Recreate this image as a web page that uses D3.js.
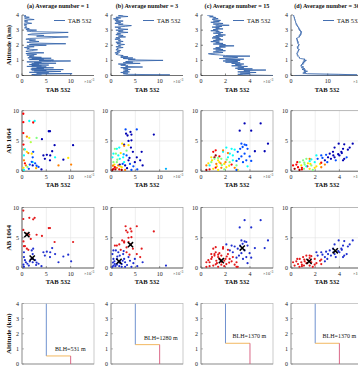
<!DOCTYPE html>
<html><head><meta charset="utf-8">
<script src="https://cdn.jsdelivr.net/npm/d3@7"></script>
<style>body{margin:0;background:#fff}svg{display:block}</style>
</head><body><svg id="c" width="358" height="368"></svg>
<script>
// ---------------- DATA ----------------
const titles = ["(a) Average number = 1","(b) Average number = 3","(c) Average number = 15","(d) Average number = 30"];
const xLabel = "TAB 532";
const yLabelAlt = "Altitude (km)";
const yLabelAB = "AB 1064";
const legendText = "TAB 532";
const xDomRow1 = [14.8,14.8,5.88,19.6];
const xDomRow23 = [14.8,14.8,5.88,5.95];
const xDomRow4 = [14.8,14.8,5.88,5.95];
const xTicksRow1 = [[0,5,10],[0,5,10],[0,2,4],[0,10]];
const xTicksRow23 = [[0,5,10],[0,5,10],[0,2,4],[0,2,4]];
const altTicks = [0,1,2,3,4];
const abTicks = [0,5,10];

// profiles: [altitude km, TAB 532 (x1e-3)]
const profileA = [[0,2.5],[0.03,4],[0.06,2],[0.09,3.5],[0.12,10.3],[0.15,3],[0.18,5.5],[0.21,1.5],[0.24,4],[0.27,8],[0.3,2.5],[0.33,5],[0.36,2],[0.39,8.5],[0.42,1.8],[0.45,4.5],[0.48,2],[0.51,6.5],[0.54,3],[0.57,5],[0.6,1],[0.63,4],[0.66,2],[0.69,5.5],[0.72,1.5],[0.75,3.5],[0.78,2],[0.81,7],[0.84,2.5],[0.87,4],[0.9,1],[0.93,6],[0.96,10],[0.99,3.5],[1.02,6.5],[1.05,1.5],[1.08,4.5],[1.11,2],[1.14,6],[1.17,1.2],[1.2,4],[1.25,1.5],[1.3,2.5],[1.35,1],[1.4,3],[1.45,0.8],[1.5,4.5],[1.55,1.5],[1.6,0.8],[1.65,2],[1.7,3.2],[1.75,1],[1.8,1.5],[1.85,0.5],[1.9,2.5],[1.95,1],[2,5],[2.05,1.5],[2.1,9],[2.15,2],[2.2,1],[2.25,3.5],[2.3,1.5],[2.35,2.8],[2.4,0.8],[2.45,1.5],[2.5,6],[2.55,9.5],[2.6,3],[2.65,4.5],[2.7,1.2],[2.75,2],[2.8,6],[2.85,9.5],[2.9,2],[2.95,1],[3,3],[3.05,0.8],[3.1,1.5],[3.15,0.5],[3.2,1],[3.3,0.5],[3.35,1],[3.4,0.4],[3.45,2],[3.5,1],[3.55,0.5],[3.6,1.2],[3.65,0.5],[3.7,2.5],[3.75,1],[3.8,0.5],[3.85,1.5],[3.9,0.5],[3.95,0.8],[4,0.3]];
const profileB = [[0,2.5],[0.04,12.1],[0.08,3],[0.12,2.5],[0.16,3.5],[0.2,2],[0.24,3.8],[0.28,2.5],[0.32,3.5],[0.36,2.8],[0.4,4],[0.44,2.5],[0.48,3.5],[0.52,2],[0.56,6.5],[0.6,3],[0.64,3.5],[0.68,2],[0.72,3],[0.76,1.5],[0.8,6],[0.84,2.5],[0.88,4.5],[0.92,3],[0.96,5],[1,10.7],[1.04,3.5],[1.08,5],[1.12,2.5],[1.16,4.5],[1.2,2],[1.24,3.5],[1.28,2],[1.32,2.5],[1.36,1.5],[1.4,1],[1.45,1.5],[1.5,0.8],[1.55,1.8],[1.6,1.2],[1.65,2],[1.7,1],[1.75,1.5],[1.8,1.2],[1.85,2.5],[1.9,1],[1.95,2],[2,1.5],[2.05,2.8],[2.1,1.2],[2.15,2],[2.2,1],[2.25,2.5],[2.3,1.5],[2.35,2],[2.4,0.8],[2.45,1.8],[2.5,1],[2.55,3],[2.6,1.5],[2.65,2.5],[2.7,1],[2.75,2],[2.8,1.2],[2.85,3.5],[2.9,1.5],[2.95,2.5],[3,1],[3.05,3.5],[3.1,1.5],[3.15,2],[3.2,0.8],[3.25,3],[3.3,4.2],[3.35,1.5],[3.4,2.5],[3.45,0.8],[3.5,2],[3.55,1],[3.6,2.5],[3.65,0.8],[3.7,1.5],[3.75,0.5],[3.8,2],[3.85,1],[3.9,3.5],[3.95,1.5],[4,2.5]];
const profileC = [[0,6],[0.04,3.5],[0.08,3],[0.12,4],[0.16,3.2],[0.2,4.5],[0.24,3],[0.28,4],[0.32,3.5],[0.36,5.3],[0.4,3],[0.44,4.2],[0.48,2.8],[0.52,3.5],[0.56,3],[0.6,3.8],[0.64,2.5],[0.68,3.3],[0.72,2.8],[0.76,3.5],[0.8,2.5],[0.84,3.2],[0.88,2],[0.92,3],[0.96,1.8],[1,3.2],[1.04,2],[1.08,3.5],[1.12,1.5],[1.16,2.5],[1.2,3],[1.24,1.8],[1.28,4],[1.32,2],[1.36,1.5],[1.4,0.8],[1.44,0.6],[1.48,1.2],[1.52,1.8],[1.56,1],[1.6,1.5],[1.64,2],[1.68,1.2],[1.72,1.8],[1.76,1],[1.8,1.6],[1.84,1.2],[1.88,2],[1.92,1.5],[1.96,2.7],[2,1.5],[2.04,2],[2.08,1],[2.12,1.8],[2.16,1.2],[2.2,1.5],[2.24,0.8],[2.28,1.5],[2.32,1],[2.36,1.8],[2.4,1.2],[2.44,1.6],[2.48,0.9],[2.52,1.5],[2.56,1],[2.6,1.8],[2.64,1.2],[2.68,2],[2.72,1.4],[2.76,1.6],[2.8,1],[2.84,1.8],[2.88,1.2],[2.92,1.5],[2.96,0.8],[3,1.4],[3.04,1],[3.08,1.8],[3.12,1.2],[3.16,1.5],[3.2,0.9],[3.24,1.7],[3.28,1.2],[3.32,2.3],[3.36,1.5],[3.4,1],[3.44,1.8],[3.48,1.2],[3.52,0.8],[3.56,1.5],[3.6,1],[3.64,1.6],[3.68,1.2],[3.72,0.9],[3.76,1.4],[3.8,1],[3.84,1.2],[3.88,0.7],[3.92,1],[3.96,0.6],[4,0.5]];
const profileD = [[0,1],[0.04,18],[0.08,13],[0.12,4.5],[0.16,3.2],[0.2,4],[0.24,3.5],[0.28,4.5],[0.32,3.5],[0.36,4],[0.4,3],[0.44,3.8],[0.48,3.2],[0.52,2.8],[0.56,3.5],[0.6,3],[0.64,2.6],[0.68,3],[0.72,2.8],[0.76,3.4],[0.8,3],[0.84,3.6],[0.88,3.2],[0.92,3.9],[0.96,3.4],[1,4.2],[1.04,3.5],[1.08,3.8],[1.12,2.6],[1.16,2.2],[1.2,2.4],[1.24,2],[1.28,1.8],[1.32,2],[1.36,1.6],[1.4,1.8],[1.44,1.5],[1.48,1.8],[1.52,1.6],[1.56,2],[1.6,1.8],[1.64,2.2],[1.68,1.9],[1.72,2.3],[1.76,2],[1.8,1.7],[1.84,2],[1.88,1.6],[1.92,1.9],[1.96,2.2],[2,1.9],[2.04,2.3],[2.08,2],[2.12,1.8],[2.16,2.1],[2.2,1.7],[2.24,2],[2.28,1.6],[2.32,1.9],[2.36,1.5],[2.4,1.8],[2.44,1.4],[2.48,1.7],[2.52,2],[2.56,2.4],[2.6,2.1],[2.64,2.6],[2.68,2.3],[2.72,2.8],[2.76,2.5],[2.8,2.9],[2.84,2.6],[2.88,3],[2.92,2.5],[2.96,2.7],[3,2.2],[3.04,2.5],[3.08,2],[3.12,2.3],[3.16,1.9],[3.2,2.1],[3.24,1.7],[3.28,1.9],[3.32,1.5],[3.36,1.7],[3.4,1.3],[3.44,1.5],[3.48,1.2],[3.52,1.4],[3.56,1.1],[3.6,1.3],[3.64,1],[3.68,1.2],[3.72,0.9],[3.76,1.1],[3.8,0.8],[3.84,1],[3.88,0.7],[3.92,0.9],[3.96,0.6],[4,0.8]];

// scatter points: [TAB 532 (x1e-3), AB 1064, colour value (jet 0..1), cluster (1 = upper cluster, 0 = lower cluster)]
const scatterA = [[0.27,9.5,0.88,1],[0.27,8.1,0.88,1],[1.5,8.3,0.38,1],[2.6,8.3,0.38,1],[2.3,8.05,0.88,1],[0.27,6.3,0.88,1],[1.0,5.7,0.75,1],[1.5,5.5,0.6,1],[3.0,5.5,0.5,1],[1.8,4.8,0.55,1],[5.5,6.6,0.05,1],[5.75,6.6,0.05,1],[4.1,5.3,0.05,1],[6.7,4.3,0.05,1],[10.5,4.3,0.05,1],[0.3,4.4,0.88,1],[0.4,3.6,0.75,1],[0.6,3.6,0.38,1],[1.0,3.2,0.65,1],[1.3,3.0,0.75,1],[2.0,2.9,0.65,0],[0.4,2.6,0.38,0],[4.4,2.6,0.05,0],[5.1,2.7,0.05,0],[5.8,2.6,0.05,0],[6.2,3.3,0.05,0],[4.7,2.05,0.05,0],[5.75,1.8,0.05,0],[2.3,3.2,0.2,0],[2.2,2.3,0.2,0],[6.8,2.3,0.38,0],[8.5,1.9,0.05,0],[9.5,2.2,0.65,0],[10.1,1.1,0.75,0],[7.5,0.95,0.75,0],[2.2,1.5,0.38,0],[2.7,1.3,0.2,0],[3.0,0.9,0.2,0],[3.4,0.7,0.2,0],[4.0,0.3,0.05,0],[2.2,0.95,0.05,0],[0.4,1.8,0.75,0],[0.6,1.3,0.88,0],[0.8,0.95,0.75,0],[0.3,0.55,0.65,0],[1.1,0.7,0.5,0],[1.6,1.1,0.2,0],[1.4,0.4,0.2,0],[0.4,0.2,0.38,0],[2.0,1.55,0.2,0],[2.9,0.5,0.7,0]];
const scatterB = [[3.0,6.9,0.2,1],[5.3,6.9,0.2,1],[4.0,6.5,0.05,1],[3.1,6.2,0.05,1],[3.4,5.9,0.05,1],[4.2,6.05,0.05,1],[8.8,6.05,0.05,1],[4.2,5.1,0.05,1],[3.6,5.0,0.05,1],[2.7,4.4,0.05,1],[2.3,4.55,0.65,1],[3.6,4.3,0.65,1],[2.7,4.2,0.75,1],[1.2,3.7,0.38,1],[1.7,3.9,0.38,1],[0.8,3.7,0.5,1],[0.5,2.9,0.38,0],[1.0,2.9,0.5,0],[4.1,3.9,0.05,1],[4.5,3.2,0.05,1],[6.3,3.2,0.05,1],[5.3,2.3,0.05,1],[6.0,1.8,0.05,1],[6.5,0.95,0.05,0],[5.4,0.3,0.2,0],[11.3,0.4,0.3,0],[0.5,0.4,0.88,0],[0.8,0.65,0.88,0],[0.3,0.2,0.97,0],[1.5,0.95,0.75,0],[2.2,0.65,0.65,0],[1.2,1.5,0.5,0],[1.8,2.05,0.38,0],[2.5,2.3,0.38,0],[3.2,2.6,0.2,1],[3.6,1.8,0.05,0],[3.9,1.2,0.2,0],[2.9,0.95,0.05,0],[4.6,0.8,0.2,0],[2.7,1.5,0.38,0],[1.8,1.1,0.05,0],[0.5,1.5,0.5,0],[0.7,1.1,0.65,0],[1.2,0.55,0.75,0],[1.7,0.3,0.88,0],[2.2,0.2,0.97,0],[1.5,2.6,0.38,0],[2.0,3.0,0.65,1],[2.9,0.2,0.75,0],[4.2,0.2,0.2,0],[4.9,1.5,0.05,0],[0.3,2.3,0.38,0],[3.2,3.4,0.5,1],[0.9,0.3,0.97,0],[1.3,1.9,0.5,0],[2.4,1.2,0.2,0],[3.3,0.5,0.05,0],[0.4,0.9,0.75,0],[1.9,0.8,0.65,0],[2.6,2.8,0.3,0],[3.8,2.2,0.05,1]];
const scatterC = [[3.56,7.9,0.05,1],[4.87,7.9,0.05,1],[3.16,6.7,0.05,1],[4.1,6.7,0.05,1],[5.47,4.55,0.05,1],[5.2,3.3,0.05,1],[4.4,3.3,0.05,1],[3.3,4.55,0.2,1],[3.56,4.4,0.2,1],[3.7,4.3,0.2,1],[3.4,4.0,0.2,1],[3.2,3.7,0.2,1],[3.8,3.7,0.2,1],[3.0,3.2,0.2,1],[3.56,2.9,0.2,1],[3.3,2.45,0.2,1],[3.97,2.45,0.2,1],[3.7,1.8,0.2,1],[2.9,1.7,0.2,1],[3.43,1.5,0.2,1],[4.1,1.7,0.2,1],[3.1,2.05,0.2,1],[2.07,3.9,0.38,1],[2.5,3.7,0.38,1],[2.75,3.55,0.38,1],[2.35,2.9,0.38,1],[1.8,3.2,0.38,0],[2.2,2.3,0.38,0],[3.8,0.8,0.38,1],[2.6,2.6,0.38,1],[1.0,3.2,0.88,0],[1.2,3.45,0.88,0],[0.7,0.3,0.88,0],[0.44,0.2,0.97,0],[1.2,2.6,0.97,0],[1.1,2.3,0.97,0],[1.8,3.45,0.75,0],[2.2,3.0,0.75,0],[1.1,2.05,0.5,0],[1.4,1.8,0.65,0],[1.66,2.05,0.5,0],[1.5,1.5,0.65,0],[1.25,1.2,0.75,0],[1.9,1.2,0.65,0],[0.84,1.5,0.5,0],[0.7,0.95,0.38,0],[2.07,0.65,0.65,0],[1.66,0.55,0.75,0],[1.0,0.4,0.65,0],[2.34,1.5,0.5,0],[2.5,1.1,0.88,0],[2.75,0.55,0.75,0],[1.4,0.2,0.65,0],[1.9,0.3,0.5,0],[2.6,1.8,0.38,0],[1.5,2.45,0.88,0],[0.84,2.3,0.65,0],[0.44,0.95,0.75,0],[2.9,0.95,0.5,0],[3.0,0.2,0.65,0],[2.9,0.2,0.2,0],[1.3,0.8,0.65,0],[1.7,1.0,0.5,0],[2.1,1.9,0.5,0],[0.9,1.8,0.65,0],[1.6,1.3,0.75,0],[2.3,0.9,0.65,0],[1.2,0.6,0.88,0],[0.6,1.3,0.65,0],[2.0,1.5,0.75,0],[1.4,2.2,0.5,0]];
const scatterD = [[3.94,4.55,0.05,1],[4.4,4.45,0.05,1],[5.1,4.55,0.05,1],[3.6,3.9,0.05,1],[4.3,3.7,0.05,1],[4.7,3.55,0.05,1],[4.85,3.9,0.05,1],[4.16,3.2,0.05,1],[3.47,3.2,0.05,1],[3.9,2.8,0.05,1],[3.2,2.9,0.05,1],[3.6,2.3,0.05,1],[3.3,2.05,0.05,1],[4.0,2.6,0.05,1],[3.06,2.3,0.05,1],[2.8,1.8,0.05,1],[4.4,2.05,0.05,1],[4.3,1.8,0.05,1],[2.5,2.6,0.2,1],[2.9,2.7,0.2,1],[2.2,2.05,0.2,1],[3.7,1.8,0.2,1],[4.6,2.3,0.2,1],[2.1,2.6,0.38,1],[1.68,1.95,0.38,0],[1.96,1.5,0.38,0],[2.4,1.2,0.65,0],[2.8,1.1,0.75,1],[2.1,0.8,0.65,0],[2.5,0.65,0.75,0],[1.96,0.55,0.65,0],[2.5,1.4,0.88,0],[0.17,0.95,0.88,0],[0.3,0.4,0.97,0],[0.58,0.65,0.88,0],[0.52,1.5,0.88,0],[0.7,0.2,0.97,0],[1.0,1.8,0.5,0],[1.27,2.05,0.5,0],[1.54,1.65,0.38,0],[1.4,1.3,0.65,0],[1.13,1.1,0.5,0],[0.85,0.95,0.65,0],[1.68,0.95,0.5,0],[1.35,0.8,0.88,0],[1.07,0.4,0.5,0],[1.54,0.4,0.65,0],[0.9,0.55,0.88,0],[0.72,1.5,0.5,0],[1.27,0.8,0.38,0],[1.8,0.2,0.5,0],[0.44,1.1,0.88,0],[1.54,2.05,0.75,0],[3.0,1.5,0.2,1],[3.5,2.6,0.05,1],[4.2,3.0,0.05,1],[2.6,2.2,0.2,1],[1.1,1.4,0.5,0],[0.9,0.3,0.88,0],[1.6,1.2,0.65,0]];
// cluster centres (black crosses): [TAB 532, AB 1064]
const centresA = [[1.0,5.5],[2.1,1.65]];
const centresB = [[4.0,3.85],[1.65,1.1]];
const centresC = [[3.37,3.3],[1.66,1.2]];
const centresD = [[3.66,2.85],[1.49,1.1]];
// which cluster is drawn red in each panel (1 = upper cluster, 0 = lower cluster)
const redCluster = [1,1,0,0];

// boundary layer panels
const blhMetres = [531,1280,1370,1370];
const tabAbove = [5,5,2,2];
const tabBelow = [10,10,4,4];

// ---------------- LAYOUT ----------------
const svg = d3.select("#c");
const colLeft = [22,111,201,291], plotW = 72;
const rowTop = [15,110.7,207.5,303.5], plotH = 60.5;
const serif = "'Liberation Serif','Times New Roman',serif";
const profiles = [profileA,profileB,profileC,profileD];
const scatters = [scatterA,scatterB,scatterC,scatterD];
const centres = [centresA,centresB,centresC,centresD];

function jet(t){const c=v=>Math.max(0,Math.min(1,v));
  return d3.rgb(255*c(1.5-Math.abs(4*t-3)),255*c(1.5-Math.abs(4*t-2)),255*c(1.5-Math.abs(4*t-1))).formatHex();}

let clipId = 0;
function panel(col,row,xDom,yDom,xTicks,yTicks,opt){
  const L = colLeft[col], T = rowTop[row];
  const g = svg.append("g").attr("transform",`translate(${L},${T})`);
  const x = d3.scaleLinear().domain([0,xDom]).range([0,plotW]);
  const y = d3.scaleLinear().domain(yDom).range([plotH,0]);
  if(opt.grid){
    g.selectAll(".gx").data(xTicks.filter(v=>v>0)).join("line").attr("x1",d=>x(d)).attr("x2",d=>x(d)).attr("y1",0).attr("y2",plotH).attr("stroke","#e3e3e3").attr("stroke-width",0.6);
    g.selectAll(".gy").data(yTicks.filter(v=>v>yDom[0]&&v<yDom[1])).join("line").attr("y1",d=>y(d)).attr("y2",d=>y(d)).attr("x1",0).attr("x2",plotW).attr("stroke","#e3e3e3").attr("stroke-width",0.6);
  }
  if(opt.box){
    g.append("rect").attr("x",0).attr("y",0).attr("width",plotW).attr("height",plotH).attr("fill","none").attr("stroke",opt.boxColor||"#9a9a9a").attr("stroke-width",0.7);
  }
  const axCol = opt.axisColor||"#333";
  g.append("line").attr("x1",0).attr("x2",0).attr("y1",0).attr("y2",plotH).attr("stroke",axCol).attr("stroke-width",0.7);
  g.append("line").attr("x1",0).attr("x2",plotW).attr("y1",plotH).attr("y2",plotH).attr("stroke",axCol).attr("stroke-width",0.7);
  g.selectAll(".tx").data(xTicks).join("line").attr("x1",d=>x(d)).attr("x2",d=>x(d)).attr("y1",plotH).attr("y2",plotH-2).attr("stroke",axCol).attr("stroke-width",0.6);
  g.selectAll(".ty").data(yTicks).join("line").attr("y1",d=>y(d)).attr("y2",d=>y(d)).attr("x1",0).attr("x2",2).attr("stroke",axCol).attr("stroke-width",0.6);
  if(opt.xLabels){
    g.selectAll(".lx").data(xTicks).join("text").attr("x",d=>x(d)).attr("y",plotH+7.5).attr("text-anchor","middle")
      .attr("font-family",serif).attr("font-size",6).attr("fill","#222").text(d=>d);
    const e = g.append("text").attr("x",plotW-10).attr("y",plotH+7).attr("font-family",serif).attr("font-size",4.6).attr("fill","#444");
    e.append("tspan").text("\u00d710");
    e.append("tspan").attr("dy",-1.8).attr("font-size",3.6).text("-3");
  }
  g.selectAll(".ly").data(yTicks).join("text").attr("x",-3).attr("y",d=>y(d)+2).attr("text-anchor","end")
    .attr("font-family",serif).attr("font-size",6).attr("fill","#222").text(d=>d);
  const cid = "clip"+(clipId++);
  g.append("clipPath").attr("id",cid).append("rect").attr("x",0).attr("y",0).attr("width",plotW).attr("height",plotH);
  const inner = g.append("g").attr("clip-path",`url(#${cid})`);
  return {g,inner,x,y,L,T};
}

function yLabel(text,row){
  const cy = rowTop[row]+plotH/2;
  svg.append("text").attr("transform",`translate(10.5,${cy}) rotate(-90)`).attr("text-anchor","middle")
    .attr("font-family",serif).attr("font-weight","bold").attr("font-size",7).attr("fill","#111").text(text);
}
function xAxisLabel(col,row){
  svg.append("text").attr("x",colLeft[col]+plotW/2).attr("y",rowTop[row]+plotH+16).attr("text-anchor","middle")
    .attr("font-family",serif).attr("font-weight","bold").attr("font-size",6.6).attr("fill","#111").text(xLabel);
}

for(let c=0;c<4;c++){
  // Row 1: profiles
  const p = panel(c,0,xDomRow1[c],[0,4],xTicksRow1[c],altTicks,{xLabels:true});
  p.inner.append("path").datum(profiles[c]).attr("fill","none").attr("stroke","#2f5fa8").attr("stroke-width",0.8)
    .attr("d",d3.line().x(d=>p.x(d[1])).y(d=>p.y(d[0])));
  svg.append("text").attr("x",colLeft[c]+plotW/2).attr("y",8).attr("text-anchor","middle")
    .attr("font-family",serif).attr("font-weight","bold").attr("font-size",6.2).attr("fill","#111").text(titles[c]);
  p.g.append("line").attr("x1",32).attr("x2",43).attr("y1",5.5).attr("y2",5.5).attr("stroke","#2f5fa8").attr("stroke-width",0.9);
  p.g.append("text").attr("x",46).attr("y",7.7).attr("font-family",serif).attr("font-size",6.4).attr("fill","#111").text(legendText);
  xAxisLabel(c,0);

  // Row 2: scatter coloured by jet
  const s = panel(c,1,xDomRow23[c],[0,10],xTicksRow23[c],abTicks,{xLabels:true,grid:true,box:true,axisColor:"#555"});
  s.inner.selectAll("circle").data(scatters[c]).join("circle").attr("cx",d=>s.x(d[0])).attr("cy",d=>s.y(d[1])).attr("r",1.15)
    .attr("fill",d=>jet(d[2]));
  xAxisLabel(c,1);

  // Row 3: clusters
  const k = panel(c,2,xDomRow23[c],[0,10],xTicksRow23[c],abTicks,{xLabels:true,grid:true,box:true,axisColor:"#555"});
  k.inner.selectAll("circle").data(scatters[c]).join("circle").attr("cx",d=>k.x(d[0])).attr("cy",d=>k.y(d[1])).attr("r",1.1)
    .attr("fill",d=>d[3]===redCluster[c]?"#e31a1c":"#1f2fd0");
  centres[c].forEach(ct=>{
    const cx=k.x(ct[0]), cy=k.y(ct[1]), r=2.6;
    k.inner.append("path").attr("d",`M${cx-r},${cy-r}L${cx+r},${cy+r}M${cx-r},${cy+r}L${cx+r},${cy-r}`).attr("stroke","#000").attr("stroke-width",1.5);
  });
  xAxisLabel(c,2);

  // Row 4: BLH step profile
  const b = panel(c,3,xDomRow4[c],[0,4],[],altTicks,{box:true,boxColor:"#b5b5b5",axisColor:"#888"});
  const h = blhMetres[c]/1000;
  b.inner.append("line").attr("x1",b.x(tabAbove[c])).attr("x2",b.x(tabAbove[c])).attr("y1",b.y(4)).attr("y2",b.y(h)).attr("stroke","#5f84c9").attr("stroke-width",0.9);
  b.inner.append("line").attr("x1",b.x(tabAbove[c])).attr("x2",b.x(tabBelow[c])).attr("y1",b.y(h)).attr("y2",b.y(h)).attr("stroke","#f0b04f").attr("stroke-width",0.9);
  b.inner.append("line").attr("x1",b.x(tabBelow[c])).attr("x2",b.x(tabBelow[c])).attr("y1",b.y(h)).attr("y2",b.y(0)).attr("stroke","#d6587a").attr("stroke-width",0.9);
  b.g.append("text").attr("x",c<2?33:31.5).attr("y",b.y(h)-5).attr("font-family",serif).attr("font-size",6).attr("fill","#111")
    .text(`BLH=${blhMetres[c]} m`);
}
yLabel(yLabelAlt,0);
yLabel(yLabelAB,1);
yLabel(yLabelAB,2);
yLabel(yLabelAlt,3);
</script></body></html>
